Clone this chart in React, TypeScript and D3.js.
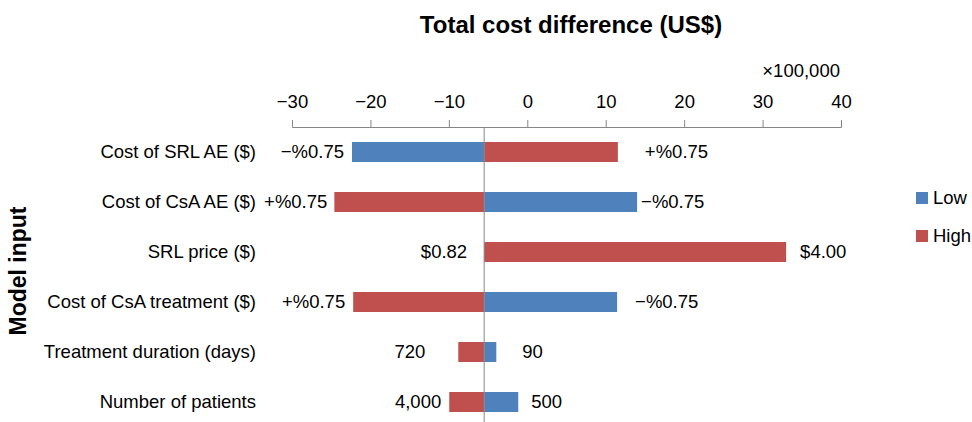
import React, { useEffect, useRef } from 'react';
import * as d3 from 'd3';

// model inputs, top to bottom
const categories = [
  'Cost of SRL AE ($)',
  'Cost of CsA AE ($)',
  'SRL price ($)',
  'Cost of CsA treatment ($)',
  'Treatment duration (days)',
  'Number of patients',
];
// total cost difference, in units of 100,000 US$
const baseValue = -5.5;
const lowValues = [-22.35, 14.0, -5.5, 11.45, -3.95, -1.15];
const highValues = [11.55, -24.6, 33.0, -22.2, -8.8, -9.95];
const lowLabels = ['\u2212%0.75', '\u2212%0.75', '$0.82', '\u2212%0.75', '90', '500'];
const highLabels = ['+%0.75', '+%0.75', '$4.00', '+%0.75', '720', '4,000'];
const xTicks = [-30, -20, -10, 0, 10, 20, 30, 40];
const seriesNames = ['Low', 'High'];

// gap between a bar end and its label (px)
const lowGap = [8, 4, 17, 18, 26, 13];
const highGap = [27, 7, 14, 8, 33, 8];

const colors = { Low: '#4F81BD', High: '#C0504D' };
const FONT = '"Liberation Sans", Arial, sans-serif';

export default function App() {
  const ref = useRef<SVGSVGElement>(null);

  useEffect(() => {
    const svg = d3.select(ref.current);
    svg.selectAll('*').remove();

    const axisY = 127;
    const x = d3.scaleLinear().domain([-30, 40]).range([292, 841]);
    const y = d3.scaleBand().domain(categories).range([127, 427]).paddingInner(0.6).paddingOuter(0.3);

    // title
    svg.append('text')
      .attr('x', 571).attr('y', 33)
      .attr('text-anchor', 'middle')
      .style('font', `bold 24px ${FONT}`)
      .text('Total cost difference (US$)');

    // y title
    svg.append('text')
      .attr('transform', 'translate(26, 271) rotate(-90)')
      .attr('text-anchor', 'middle')
      .style('font', `bold 23px ${FONT}`)
      .text('Model input');

    // x axis on top
    const axis = d3.axisTop(x).tickValues(xTicks).tickSizeInner(7).tickSizeOuter(7).tickPadding(12)
      .tickFormat(d3.format('d'));
    const ag = svg.append('g').attr('transform', `translate(0, ${axisY})`).call(axis);
    ag.select('.domain').attr('stroke', '#868686');
    ag.selectAll('.tick line').attr('stroke', '#868686');
    ag.selectAll('.tick text')
      .attr('fill', '#000')
      .style('font', `18.5px ${FONT}`);

    svg.append('text')
      .attr('x', 840).attr('y', 77)
      .attr('text-anchor', 'end')
      .style('font', `18.5px ${FONT}`)
      .text('\u00d7100,000');

    // bars
    const rows = categories.map((c, i) => ({
      c, i, low: lowValues[i], high: highValues[i],
    }));

    const drawSeries = (key: 'low' | 'high', color: string) => {
      svg.append('g').selectAll('rect')
        .data(rows)
        .join('rect')
        .attr('x', d => x(Math.min(baseValue, d[key])))
        .attr('y', d => y(d.c)!)
        .attr('width', d => Math.abs(x(d[key]) - x(baseValue)))
        .attr('height', y.bandwidth())
        .attr('fill', color);
    };
    drawSeries('high', colors.High);
    drawSeries('low', colors.Low);

    // center line
    svg.append('line')
      .attr('x1', x(baseValue)).attr('x2', x(baseValue))
      .attr('y1', axisY).attr('y2', 422)
      .attr('stroke', '#868686');

    // value labels, on the outer end of each bar
    const drawLabels = (key: 'low' | 'high', labels: string[], gaps: number[]) => {
      svg.append('g').selectAll('text')
        .data(rows)
        .join('text')
        .attr('x', d => (d[key] <= baseValue ? x(d[key]) - gaps[d.i] : x(d[key]) + gaps[d.i]))
        .attr('y', d => y(d.c)! + y.bandwidth() / 2)
        .attr('dy', '0.35em')
        .attr('text-anchor', d => (d[key] <= baseValue ? 'end' : 'start'))
        .style('font', `18.5px ${FONT}`)
        .text(d => labels[d.i]);
    };
    drawLabels('low', lowLabels, lowGap);
    drawLabels('high', highLabels, highGap);

    // category labels
    svg.append('g').selectAll('text')
      .data(categories)
      .join('text')
      .attr('x', 256)
      .attr('y', d => y(d)! + y.bandwidth() / 2)
      .attr('dy', '0.35em')
      .attr('text-anchor', 'end')
      .style('font', `18.5px ${FONT}`)
      .text(d => d);

    // legend
    const lg = svg.append('g').selectAll('g')
      .data(seriesNames)
      .join('g')
      .attr('transform', (d, i) => `translate(916, ${192 + i * 38})`);
    lg.append('rect').attr('width', 12).attr('height', 12)
      .attr('fill', d => colors[d as 'Low' | 'High']);
    lg.append('text').attr('x', 17).attr('y', 6).attr('dy', '0.35em')
      .style('font', `18.5px ${FONT}`)
      .text(d => d);
  }, []);

  return (
    <svg ref={ref} width={972} height={422}
      style={{ position: 'absolute', left: 0, top: 0, background: '#fff' }} />
  );
}
